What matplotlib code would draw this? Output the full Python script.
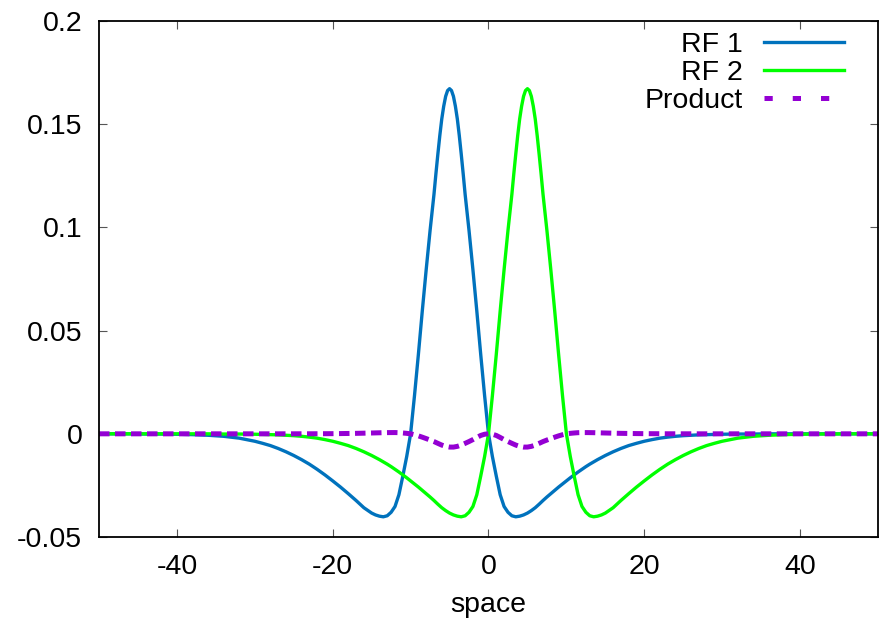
import matplotlib
matplotlib.use("Agg")
import matplotlib.pyplot as plt

plt.rcParams['font.family'] = ['Liberation Sans', 'DejaVu Sans']
plt.rcParams['axes.unicode_minus'] = False

# RF 1 samples (space, value)
rf1_space = [-50, -48, -46, -44, -42, -40, -38, -36, -34, -32, -30,
             -29, -28, -27, -26, -25, -24, -23, -22, -21, -20, -19, -18, -17, -16,
             -15, -14.5, -14, -13.5, -13, -12.5, -12, -11.5, -11, -10.5,
             -10, -9.5, -9, -8.5, -8, -7.5,
             -7, -6.75, -6.5, -6.25, -6, -5.75, -5.5, -5.25, -5,
             -4.75, -4.5, -4.25, -4, -3.75, -3.5, -3.25, -3,
             -2.5, -2, -1.5, -1, -0.5, 0, 0.5, 1, 1.5, 2, 2.5, 3, 3.5, 4, 4.5,
             5, 5.5, 6, 6.5, 7, 7.5, 8, 8.5, 9, 9.5, 10, 10.5, 11, 11.5, 12, 12.5,
             13, 13.5, 14, 14.5, 15,
             16, 17, 18, 19, 20, 21, 22, 23, 24, 25, 26, 27, 28, 29,
             30, 32, 34, 36, 38, 40, 42, 44, 46, 48, 50]
rf1 = [0.0, 0.0, 0.0, -0.0001, -0.0001, -0.0002, -0.0004, -0.0007, -0.0012, -0.0021, -0.0036,
       -0.0046, -0.0057, -0.0071, -0.0087, -0.0105, -0.0125, -0.0147, -0.0172, -0.0199, -0.0228,
       -0.0258, -0.0290, -0.0323, -0.0358,
       -0.0384, -0.0393, -0.0399, -0.0402, -0.0397, -0.0380, -0.0352, -0.0295, -0.0205, -0.0110,
       0.0, 0.0185, 0.0385, 0.0595, 0.0795, 0.0985,
       0.1160, 0.1260, 0.1355, 0.1445, 0.1525, 0.1587, 0.1635, 0.1663, 0.1672,
       0.1663, 0.1635, 0.1587, 0.1525, 0.1445, 0.1355, 0.1260, 0.1160,
       0.0985, 0.0795, 0.0595, 0.0385, 0.0185, 0.0, -0.0110, -0.0205, -0.0295, -0.0352, -0.0380,
       -0.0397, -0.0402, -0.0399, -0.0393,
       -0.0384, -0.0372, -0.0358, -0.0341, -0.0323, -0.0306, -0.0290, -0.0274, -0.0258, -0.0243,
       -0.0228, -0.0213, -0.0199, -0.0185, -0.0172, -0.0159,
       -0.0147, -0.0136, -0.0125, -0.0115, -0.0105,
       -0.0087, -0.0071, -0.0057, -0.0046, -0.0036, -0.0028, -0.0021, -0.0016, -0.0012, -0.0009,
       -0.0007, -0.0005, -0.0004, -0.0003,
       -0.0002, -0.0001, -0.0001, 0.0, 0.0, 0.0, 0.0, 0.0, 0.0, 0.0, 0.0]

# RF 2 samples (mirror image of RF 1 about space = 0)
rf2_space = [50, 48, 46, 44, 42, 40, 38, 36, 34, 32, 30,
             29, 28, 27, 26, 25, 24, 23, 22, 21, 20, 19, 18, 17, 16,
             15, 14.5, 14, 13.5, 13, 12.5, 12, 11.5, 11, 10.5,
             10, 9.5, 9, 8.5, 8, 7.5,
             7, 6.75, 6.5, 6.25, 6, 5.75, 5.5, 5.25, 5,
             4.75, 4.5, 4.25, 4, 3.75, 3.5, 3.25, 3,
             2.5, 2, 1.5, 1, 0.5, 0, -0.5, -1, -1.5, -2, -2.5, -3, -3.5, -4, -4.5,
             -5, -5.5, -6, -6.5, -7, -7.5, -8, -8.5, -9, -9.5, -10, -10.5, -11, -11.5, -12, -12.5,
             -13, -13.5, -14, -14.5, -15,
             -16, -17, -18, -19, -20, -21, -22, -23, -24, -25, -26, -27, -28, -29,
             -30, -32, -34, -36, -38, -40, -42, -44, -46, -48, -50]
rf2 = [0.0, 0.0, 0.0, -0.0001, -0.0001, -0.0002, -0.0004, -0.0007, -0.0012, -0.0021, -0.0036,
       -0.0046, -0.0057, -0.0071, -0.0087, -0.0105, -0.0125, -0.0147, -0.0172, -0.0199, -0.0228,
       -0.0258, -0.0290, -0.0323, -0.0358,
       -0.0384, -0.0393, -0.0399, -0.0402, -0.0397, -0.0380, -0.0352, -0.0295, -0.0205, -0.0110,
       0.0, 0.0185, 0.0385, 0.0595, 0.0795, 0.0985,
       0.1160, 0.1260, 0.1355, 0.1445, 0.1525, 0.1587, 0.1635, 0.1663, 0.1672,
       0.1663, 0.1635, 0.1587, 0.1525, 0.1445, 0.1355, 0.1260, 0.1160,
       0.0985, 0.0795, 0.0595, 0.0385, 0.0185, 0.0, -0.0110, -0.0205, -0.0295, -0.0352, -0.0380,
       -0.0397, -0.0402, -0.0399, -0.0393,
       -0.0384, -0.0372, -0.0358, -0.0341, -0.0323, -0.0306, -0.0290, -0.0274, -0.0258, -0.0243,
       -0.0228, -0.0213, -0.0199, -0.0185, -0.0172, -0.0159,
       -0.0147, -0.0136, -0.0125, -0.0115, -0.0105,
       -0.0087, -0.0071, -0.0057, -0.0046, -0.0036, -0.0028, -0.0021, -0.0016, -0.0012, -0.0009,
       -0.0007, -0.0005, -0.0004, -0.0003,
       -0.0002, -0.0001, -0.0001, 0.0, 0.0, 0.0, 0.0, 0.0, 0.0, 0.0, 0.0]

# Product samples
prod_space = [-50, -48, -46, -44, -42, -40, -38, -36, -34, -32, -30,
              -29, -28, -27, -26, -25, -24, -23, -22, -21, -20, -19, -18, -17, -16,
              -15, -14.5, -14, -13.5, -13, -12.5, -12, -11.5, -11, -10.5,
              -10, -9.5, -9, -8.5, -8, -7.5, -7, -6.5, -6, -5.5,
              -5, -4.5, -4, -3.5, -3, -2.5, -2, -1.5, -1, -0.5,
              0, 0.5, 1, 1.5, 2, 2.5, 3, 3.5, 4, 4.5,
              5, 5.5, 6, 6.5, 7, 7.5, 8, 8.5, 9, 9.5,
              10, 10.5, 11, 11.5, 12, 12.5, 13, 13.5, 14, 14.5, 15,
              16, 17, 18, 19, 20, 21, 22, 23, 24, 25, 26, 27, 28, 29,
              30, 32, 34, 36, 38, 40, 42, 44, 46, 48, 50]
product = [0.0, 0.0, 0.0, 0.0, 0.0, 0.0, 0.0, 0.0, 0.0, 0.0, 0.0,
           0.0, 0.0, 0.0, 0.00001, 0.00001, 0.00002, 0.00002, 0.00004, 0.00006, 0.00008,
           0.00012, 0.00017, 0.00023, 0.00031,
           0.00040, 0.00045, 0.00050, 0.00055, 0.00058, 0.00060, 0.00061, 0.00055, 0.00041, 0.00023,
           0.0, -0.00045, -0.00099, -0.00163, -0.00231, -0.00301, -0.00375, -0.00462, -0.00546, -0.00608,
           -0.00642, -0.00643, -0.00608, -0.00545, -0.00461, -0.00374, -0.00280, -0.00176, -0.00079, -0.00020,
           0.0, -0.00020, -0.00079, -0.00176, -0.00280, -0.00374, -0.00461, -0.00545, -0.00608, -0.00643,
           -0.00642, -0.00608, -0.00546, -0.00462, -0.00375, -0.00301, -0.00231, -0.00163, -0.00099, -0.00045,
           0.0, 0.00023, 0.00041, 0.00055, 0.00061, 0.00060, 0.00058, 0.00055, 0.00050, 0.00045, 0.00040,
           0.00031, 0.00023, 0.00017, 0.00012, 0.00008, 0.00006, 0.00004, 0.00002, 0.00002, 0.00001,
           0.00001, 0.0, 0.0, 0.0,
           0.0, 0.0, 0.0, 0.0, 0.0, 0.0, 0.0, 0.0, 0.0, 0.0, 0.0]

series_labels = ["RF 1", "RF 2", "Product"]
x_ticks = [-40, -20, 0, 20, 40]
y_ticks = [-0.05, 0, 0.05, 0.1, 0.15, 0.2]
y_tick_labels = ["-0.05", "0", "0.05", "0.1", "0.15", "0.2"]

FS = 20.5

fig = plt.figure(figsize=(8.84, 6.23), dpi=100)
ax = fig.add_axes([0.112, 0.138, 0.8812, 0.8283])

ax.plot(rf1_space, rf1, color="#0072bd", lw=2.4, label=series_labels[0])
ax.plot(rf2_space, rf2, color="#00ff00", lw=2.4, label=series_labels[1])
ax.plot(prod_space, product, color="#9400d3", lw=3.6, dashes=(2.1, 1.1),
        label=series_labels[2])

ax.set_xlim(-50, 50)
ax.set_ylim(-0.05, 0.2)
ax.set_xticks(x_ticks)
ax.set_yticks(y_ticks)
ax.set_yticklabels(y_tick_labels)
ax.tick_params(direction="in", length=6, width=0.8, top=True, right=True,
               labelsize=FS, pad=12, color="#555555")
for s in ax.spines.values():
    s.set_linewidth(1.3)
ax.set_xlabel("space", fontsize=FS, labelpad=9)

leg = ax.legend(loc="upper right", bbox_to_anchor=(0.956, 0.979), frameon=False,
                markerfirst=False, fontsize=FS, handlelength=2.8, handletextpad=0.74,
                labelspacing=0.07, borderaxespad=0.0, borderpad=0.0)
leg.get_lines()[2].set_dashes((1.65, 4.0))

fig.savefig("out.png", dpi=100)
